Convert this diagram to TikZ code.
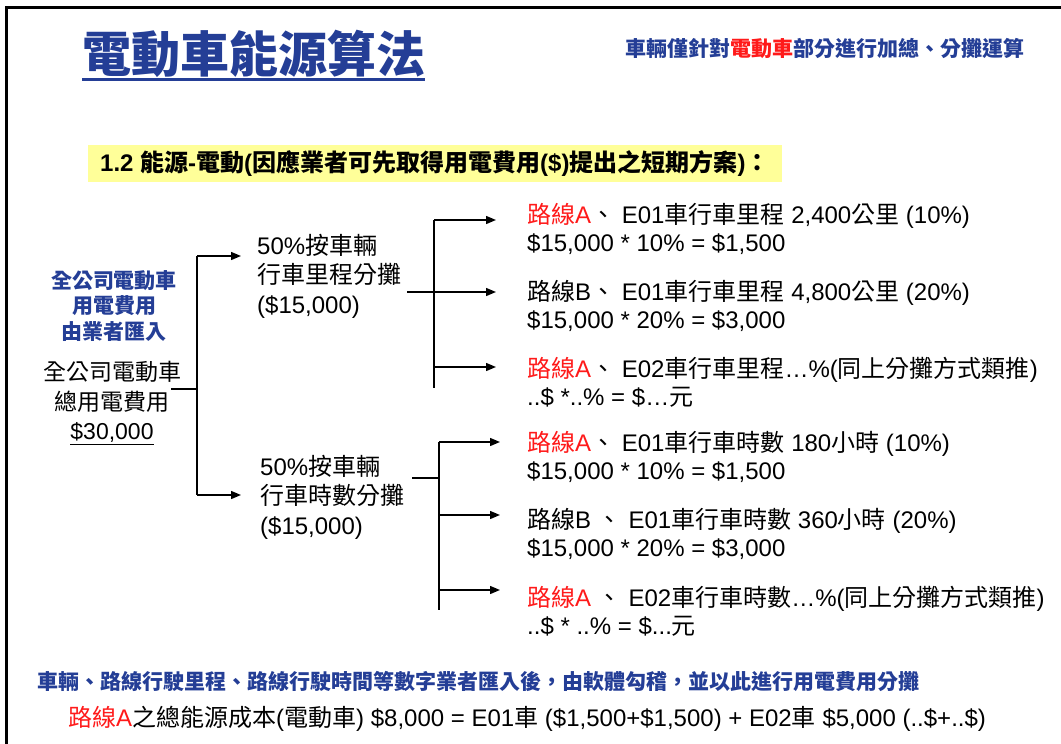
\documentclass[tikz,border=0pt]{standalone}
\usepackage{fontspec}
\setmainfont{Liberation Sans}
\newfontfamily\cjk{Noto Sans CJK TC}
\usepackage{xcolor}
\usetikzlibrary{calc,arrows.meta}

% switch to the CJK face for Han characters and CJK punctuation
\XeTeXinterchartokenstate=1
\chardef\cjkcls=7
\newcount\cjkn
\cjkn="3000
\loop
  \XeTeXcharclass\cjkn=\cjkcls
  \ifnum\cjkn<"9FFF \advance\cjkn by 1 \repeat
\cjkn="FF00
\loop
  \XeTeXcharclass\cjkn=\cjkcls
  \ifnum\cjkn<"FFEF \advance\cjkn by 1 \repeat
\XeTeXinterchartoks 0 \cjkcls = {\cjk}
\XeTeXinterchartoks 1 \cjkcls = {\cjk}
\XeTeXinterchartoks 2 \cjkcls = {\cjk}
\XeTeXinterchartoks 3 \cjkcls = {\cjk}
\XeTeXinterchartoks 4095 \cjkcls = {\cjk}
\XeTeXinterchartoks \cjkcls 0 = {\rmfamily}
\XeTeXinterchartoks \cjkcls 1 = {\rmfamily}
\XeTeXinterchartoks \cjkcls 2 = {\rmfamily}
\XeTeXinterchartoks \cjkcls 3 = {\rmfamily}
\XeTeXinterchartoks \cjkcls 4095 = {\rmfamily}

\definecolor{navy}{HTML}{243E96}
\definecolor{hot}{HTML}{FF1A1A}
\definecolor{hl}{HTML}{FFFF99}
\tikzset{
  frame/.style={draw=black, line width=3pt},
  wire/.style={draw=black, line width=1.4pt},
  arr/.style={wire, -{Triangle[length=10pt,width=8pt]}},
  title/.style={anchor=base west, inner sep=0pt, text=navy, font=\fontsize{49}{52}\selectfont\bfseries},
  subhead/.style={anchor=base east, inner sep=0pt, text=navy, font=\fontsize{21}{24}\selectfont\bfseries},
  hlbox/.style={anchor=west, fill=hl, inner xsep=12pt, inner ysep=0pt, minimum height=37pt, font=\fontsize{24}{28}\selectfont\bfseries},
  srcnote/.style={inner sep=0pt, align=center, text=navy, font=\fontsize{21}{25.5}\selectfont\bfseries},
  totnote/.style={inner sep=0pt, align=center, font=\fontsize{23}{29.5}\selectfont},
  midnote/.style={anchor=west, inner sep=0pt, align=left, font=\fontsize{24}{29.5}\selectfont},
  leaf/.style={anchor=west, inner sep=0pt, align=left, font=\fontsize{24}{28}\selectfont},
  memo/.style={anchor=west, inner sep=0pt, text=navy, font=\fontsize{21}{24}\selectfont\bfseries},
  sumline/.style={anchor=west, inner sep=0pt, font=\fontsize{24}{28}\selectfont}
}

\begin{document}
\begin{tikzpicture}[x=1pt,y=-1pt]
  \useasboundingbox (0,0) rectangle (1061,744);
  \draw[frame] (6.5,744) -- (6.5,7.5) -- (1061,7.5);

  % heading
  \node[title] (title) at (82,72) {電動車能源算法};
  \draw[navy, line width=3pt] ([yshift=-7pt]title.base west) -- ([yshift=-7pt]title.base east);
  \node[subhead] (sub) at (1025,56) {車輛僅針對{\color{hot}電動車}部分進行加總、分攤運算};
  \node[hlbox] (sec) at (88,163.5) {1.2 能源-電動(因應業者可先取得用電費用(\$)提出之短期方案)：};

  % source of the total
  \node[srcnote] (src) at (114,306) {全公司電動車\\用電費用\\由業者匯入};
  \node[totnote] (tot) at (112,403) {全公司電動車\\總用電費用\\\underline{\$30,000}};

  % two halves
  \node[midnote] (m1) at (257,276) {50\%按車輛\\行車里程分攤\\(\$15,000)};
  \node[midnote] (m2) at (260,497) {50\%按車輛\\行車時數分攤\\(\$15,000)};

  % per route shares
  \node[leaf] (r1) at (527,229) {{\color{hot}路線A}、 E01車行車里程 2,400公里 (10\%)\\\$15,000 * 10\% = \$1,500};
  \node[leaf] (r2) at (527,306) {路線B、 E01車行車里程 4,800公里 (20\%)\\\$15,000 * 20\% = \$3,000};
  \node[leaf] (r3) at (527,382) {{\color{hot}路線A}、 E02車行車里程…\%(同上分攤方式類推)\\..\$ *..\% = \$…元};
  \node[leaf] (r4) at (527,456.5) {{\color{hot}路線A}、 E01車行車時數 180小時 (10\%)\\\$15,000 * 10\% = \$1,500};
  \node[leaf] (r5) at (527,533.5) {路線B 、 E01車行車時數 360小時 (20\%)\\\$15,000 * 20\% = \$3,000};
  \node[leaf] (r6) at (527,611.5) {{\color{hot}路線A} 、 E02車行車時數…\%(同上分攤方式類推)\\..\$ * ..\% = \$...元};

  \node[memo] (memo) at (37,681) {車輛、路線行駛里程、路線行駛時間等數字業者匯入後，由軟體勾稽，並以此進行用電費用分攤};
  \node[sumline] (sum) at (68,719) {{\color{hot}路線A}之總能源成本(電動車) \$8,000 = E01車 (\$1,500+\$1,500) + E02車 \$5,000 (..\$+..\$)};

  % first split
  \coordinate (t0) at (171,389);
  \coordinate (s0) at (197,389);
  \coordinate (s1) at (197,256);
  \coordinate (s2) at (197,495);
  \draw[wire] (t0) -- (s0);
  \draw[wire] (s1) -- (s2);
  \draw[arr] (s1) -- ($(m1.west |- s1)+(-16,0)$);
  \draw[arr] (s2) -- ($(m2.west |- s2)+(-19,0)$);

  % mileage split
  \coordinate (u0) at (407,292);
  \coordinate (u1) at (434,220);
  \coordinate (u2) at (434,388);
  \coordinate (u3) at (434,367);
  \draw[wire] (u1) -- (u2);
  \draw[arr] (u0) -- ($(r2.west |- u0)+(-31,0)$);
  \draw[arr] (u1) -- ($(r1.west |- u1)+(-31,0)$);
  \draw[arr] (u3) -- ($(r3.west |- u3)+(-31,0)$);

  % hours split
  \coordinate (v0) at (412,478);
  \coordinate (v1) at (439,442);
  \coordinate (v2) at (439,610);
  \coordinate (v3) at (439,515);
  \coordinate (v4) at (439,590);
  \draw[wire] (v0) -- (v1 |- v0);
  \draw[wire] (v1) -- (v2);
  \draw[arr] (v1) -- ($(r4.west |- v1)+(-27,0)$);
  \draw[arr] (v3) -- ($(r5.west |- v3)+(-27,0)$);
  \draw[arr] (v4) -- ($(r6.west |- v4)+(-27,0)$);
\end{tikzpicture}
\end{document}
